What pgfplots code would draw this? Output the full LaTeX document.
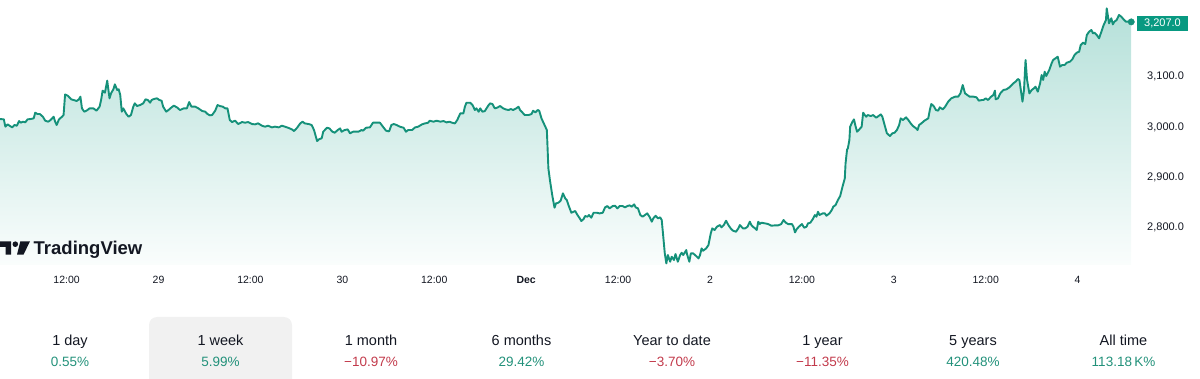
\documentclass[border=0pt]{standalone}
\usepackage{fontspec}
\setmainfont{Liberation Sans}
\usepackage{pgfplots}
\pgfplotsset{compat=1.18}
\usepackage{pgfplotstable}
\definecolor{tvgreen}{HTML}{089981}
\definecolor{tvline}{HTML}{15917A}
\definecolor{tvtext}{HTML}{131722}
\definecolor{tvpos}{HTML}{22917A}
\definecolor{tvneg}{HTML}{C23A4B}
\definecolor{tvbox}{HTML}{F1F1F1}

\pgfplotstableread{
h v
3.3 3013.9
3.8 3013.2
4.0 2998.7
4.3 3003.3
4.6 3000.0
4.9 2997.3
5.2 3002.0
5.5 3000.6
5.8 3009.9
6.0 3006.6
6.3 3008.6
6.6 3007.3
6.9 3013.2
7.3 3013.9
7.7 3015.2
7.9 3026.5
8.2 3023.8
8.5 3023.8
8.9 3018.5
9.2 3010.6
9.6 3008.6
9.9 3011.9
10.3 3018.5
10.5 3008.6
10.7 3002.0
11.0 3013.2
11.4 3018.5
11.6 3021.9
11.8 3062.9
12.2 3059.6
12.6 3053.0
12.9 3051.7
13.3 3049.7
13.6 3053.0
13.8 3058.3
14.0 3035.1
14.3 3028.5
14.6 3030.5
15.0 3035.1
15.5 3035.1
15.9 3030.5
16.3 3038.4
16.5 3051.7
16.7 3070.2
17.0 3066.3
17.3 3090.1
17.4 3078.2
17.6 3055.0
17.8 3064.9
18.1 3072.9
18.3 3082.8
18.6 3071.6
18.8 3072.9
19.0 3061.6
19.2 3028.5
19.4 3035.1
19.8 3023.8
20.1 3018.5
20.4 3021.9
20.7 3038.4
20.9 3045.1
21.2 3039.7
21.6 3041.7
22.0 3045.1
22.3 3053.0
22.6 3051.7
22.9 3046.4
23.1 3051.7
23.4 3053.7
23.8 3055.0
24.1 3051.7
24.4 3050.3
24.6 3038.4
25.0 3028.5
25.3 3031.8
25.7 3037.1
26.0 3040.4
26.4 3037.1
26.8 3031.8
27.3 3035.1
27.7 3035.1
28.0 3047.7
28.3 3038.4
28.8 3038.4
29.2 3035.1
29.7 3029.8
30.1 3028.5
30.4 3023.8
30.7 3021.2
31.0 3021.9
31.4 3030.5
31.7 3041.7
32.0 3039.7
32.4 3038.4
32.7 3035.1
33.0 3035.1
33.3 3011.9
33.6 3007.9
34.0 3010.6
34.4 3003.9
34.9 3007.9
35.3 3006.6
35.7 3007.9
36.2 3003.9
36.6 3003.3
37.0 3005.3
37.5 3000.6
37.9 2998.7
38.3 3000.6
38.8 2997.3
39.2 2998.7
39.7 2997.3
40.1 3000.6
40.5 2998.7
41.0 2996.0
41.4 2993.4
41.7 2990.0
42.1 2996.7
42.5 3005.2
42.8 3008.6
43.1 3005.2
43.6 3003.9
44.0 3001.9
44.3 2992.0
44.7 2970.1
45.0 2974.1
45.3 2975.4
45.5 2988.7
46.0 2996.6
46.3 2995.3
46.7 2988.7
47.0 2986.7
47.4 2992.0
47.7 2995.3
47.9 2988.7
48.3 2992.0
48.7 2993.3
49.0 2985.4
49.4 2988.7
49.7 2988.7
50.1 2988.7
50.5 2992.0
50.7 2990.7
51.1 2996.6
51.6 2997.3
52.0 3006.6
52.3 3006.6
52.9 3006.6
53.3 2998.6
53.7 2990.7
54.1 2989.3
54.4 3001.9
54.7 3003.9
55.1 3001.9
55.5 2998.6
56.0 2996.6
56.3 2988.7
56.6 2992.0
57.1 2992.0
57.5 2997.3
57.9 2998.6
58.4 3003.3
58.8 3005.2
59.2 3006.6
59.4 3010.5
59.9 3008.6
60.3 3010.5
60.8 3008.6
61.2 3009.9
61.6 3007.2
62.0 3008.6
62.3 3006.6
62.7 3005.2
63.0 3011.9
63.4 3025.1
63.8 3025.1
64.0 3038.4
64.2 3046.3
64.7 3046.3
65.0 3041.7
65.3 3031.8
65.5 3035.1
65.8 3028.4
66.0 3035.1
66.3 3028.4
66.6 3029.8
67.1 3041.7
67.3 3045.0
67.6 3043.7
67.9 3035.1
68.2 3036.4
68.6 3039.7
69.0 3035.1
69.3 3033.1
69.7 3031.8
70.0 3033.7
70.3 3031.8
70.7 3035.1
71.0 3038.4
71.2 3031.8
71.5 3027.1
71.8 3021.8
72.3 3021.8
72.7 3023.8
72.9 3030.4
73.2 3027.1
73.5 3031.8
73.7 3030.4
74.0 3015.2
74.3 3005.2
74.7 2992.0
74.9 2915.8
75.1 2892.6
75.4 2862.8
75.7 2837.6
75.9 2846.2
76.2 2847.5
76.5 2851.5
76.8 2866.1
77.1 2856.1
77.3 2852.8
77.6 2839.6
77.9 2827.6
78.4 2831.0
78.7 2823.0
79.0 2816.4
79.2 2811.1
79.5 2815.0
79.7 2821.0
80.0 2819.7
80.2 2823.0
80.5 2817.7
80.8 2827.6
81.2 2827.6
81.6 2826.3
82.0 2827.6
82.3 2838.2
82.6 2840.9
82.9 2836.3
83.3 2840.9
83.6 2841.6
83.9 2836.3
84.2 2840.9
84.6 2840.9
84.9 2838.2
85.2 2840.9
85.5 2842.2
85.8 2839.6
86.1 2844.2
86.3 2838.2
86.6 2836.3
86.9 2823.0
87.2 2819.7
87.5 2823.0
87.8 2826.3
88.1 2819.7
88.4 2809.8
88.6 2816.4
88.9 2821.7
89.2 2816.4
89.5 2818.4
89.7 2813.1
89.9 2779.9
90.1 2746.8
90.3 2726.9
90.5 2743.5
90.8 2730.2
91.0 2740.2
91.3 2733.5
91.5 2745.5
91.8 2730.2
92.1 2743.5
92.3 2748.1
92.5 2743.5
92.9 2753.4
93.0 2745.5
93.3 2730.2
93.5 2746.8
93.8 2746.8
94.2 2741.5
94.5 2736.8
94.7 2743.5
94.9 2756.7
95.1 2752.1
95.5 2756.7
95.8 2763.4
96.1 2786.6
96.3 2796.5
96.6 2793.2
96.9 2799.8
97.3 2803.1
97.5 2798.5
97.8 2803.1
98.1 2811.7
98.4 2803.1
98.7 2796.5
99.0 2791.9
99.4 2789.9
99.7 2796.5
99.9 2803.1
100.3 2796.5
100.6 2796.5
100.9 2799.8
101.2 2809.8
101.4 2803.1
101.6 2799.8
101.9 2796.5
102.1 2793.2
102.3 2809.8
102.5 2805.1
102.7 2807.8
103.2 2806.4
103.6 2805.1
104.0 2801.8
104.5 2802.5
104.9 2802.5
105.3 2805.1
105.6 2813.1
105.9 2807.8
106.2 2805.1
106.7 2805.1
106.9 2799.8
107.1 2788.5
107.3 2794.5
107.6 2799.8
108.0 2805.1
108.3 2797.8
108.6 2799.8
108.8 2806.4
109.1 2807.8
109.4 2814.4
109.7 2823.0
109.9 2819.7
110.1 2829.6
110.3 2823.0
110.7 2826.3
111.0 2826.3
111.2 2821.7
111.6 2826.3
111.9 2832.9
112.1 2839.6
112.4 2842.9
112.7 2852.8
113.0 2860.8
113.3 2879.3
113.6 2895.9
113.7 2925.7
113.9 2953.6
114.0 2955.5
114.2 2972.1
114.3 2998.6
114.6 3008.6
114.8 3013.2
115.0 2999.9
115.2 2988.7
115.5 2993.3
115.8 2998.6
116.0 3026.5
116.2 3021.8
116.4 3018.5
116.6 3021.8
117.0 3019.8
117.3 3021.8
117.7 3016.5
118.0 3019.8
118.3 3023.1
118.5 3018.6
118.8 3002.0
119.1 2985.4
119.5 2980.1
119.8 2985.4
120.1 2986.7
120.4 2992.0
120.7 3002.0
120.9 3015.2
121.2 3011.9
121.6 3017.2
121.9 3011.9
122.2 3005.3
122.5 3000.0
122.9 2995.4
123.1 2992.0
123.3 3002.0
123.6 3005.3
124.0 3010.6
124.5 3015.2
124.7 3031.8
124.9 3043.7
125.2 3039.8
125.5 3031.8
125.8 3030.5
126.0 3037.1
126.4 3033.1
126.7 3038.4
127.1 3048.4
127.5 3055.0
128.0 3058.3
128.4 3058.3
128.7 3064.9
129.0 3081.5
129.3 3064.9
129.6 3061.6
129.9 3058.3
130.4 3058.3
130.8 3057.0
131.1 3050.4
131.5 3051.7
131.7 3051.7
132.0 3055.0
132.3 3051.7
132.7 3058.3
133.0 3061.6
133.2 3070.3
133.3 3053.0
133.6 3055.0
133.9 3064.9
134.3 3071.6
134.7 3072.9
135.1 3076.9
135.6 3084.8
135.9 3088.1
136.2 3093.4
136.4 3091.5
136.8 3048.4
137.0 3071.6
137.2 3131.2
137.4 3091.5
137.7 3064.9
138.0 3071.6
138.3 3074.9
138.5 3078.2
138.8 3068.3
139.1 3084.8
139.3 3101.4
139.5 3091.5
139.7 3108.0
139.9 3099.4
140.3 3111.3
140.6 3124.6
140.8 3131.2
141.1 3134.5
141.4 3137.8
141.7 3118.0
142.0 3121.3
142.3 3121.3
142.6 3125.9
143.0 3127.9
143.3 3132.5
143.6 3141.2
143.9 3145.8
144.2 3147.8
144.4 3161.0
144.7 3165.7
145.0 3163.0
145.2 3180.9
145.5 3187.5
145.8 3190.9
146.0 3184.2
146.2 3185.6
146.5 3180.9
146.8 3174.3
147.1 3187.5
147.4 3200.8
147.7 3210.7
147.8 3233.9
148.1 3204.1
148.4 3214.1
148.6 3202.1
148.8 3207.4
149.1 3210.7
149.4 3220.7
149.7 3217.4
150.0 3212.1
150.3 3207.4
150.7 3207.4
151.0 3207.0
}\pricedata

\begin{document}
\begin{tikzpicture}[x=1pt,y=1pt]
\useasboundingbox (0,0) rectangle (1200,-379);
% highlighted period box
\fill[tvbox, rounded corners=8pt] (149,-390) rectangle (292,-317);

\begin{axis}[
  at={(0,0)}, anchor=north west,
  scale only axis, width=1132pt, height=265pt,
  xmin=3.3, xmax=151.1, ymin=2723.7, ymax=3250.5,
  axis line style={draw=none},
  major tick length=0pt,
  clip=false,
  /pgf/number format/assume math mode=true,
  xtick={12,24,...,144},
  xticklabels={12:00,29,12:00,30,12:00,\textbf{Dec},12:00,2,12:00,3,12:00,4},
  xticklabel style={anchor=base, inner sep=0pt, yshift=-19pt,
    font=\fontsize{10.5}{12}\selectfont, text=tvtext},
  ytick={2800,2900,3000,3100},
  yticklabels={{2,800.0},{2,900.0},{3,000.0},{3,100.0}},
  yticklabel pos=right,
  yticklabel style={anchor=base west, inner sep=0pt, xshift=15pt, yshift=-4pt,
    font=\fontsize{11}{13}\selectfont, text=tvtext},
]
\addplot[draw=none, top color=tvgreen!30!white, bottom color=tvgreen!2!white]
  table[x=h, y=v] {\pricedata} \closedcycle;
\addplot[tvline, line width=1.9pt, line join=round, mark=none]
  table[x=h, y=v] {\pricedata};
\addplot[only marks, mark=*, mark size=3.2pt, mark options={fill=tvline, draw=tvline}]
  coordinates {(151.0,3207)};
\end{axis}

% last value label
\node[fill=tvgreen, text=white, minimum width=51pt, minimum height=15pt, inner sep=0pt,
  font=\fontsize{11}{13}\selectfont] at (1162.5,-23.5) {3,207.0};

% TradingView logo
\fill[tvtext] (0,-241.3) -- (11,-241.3) -- (11,-254.7) -- (5.5,-254.7) -- (5.5,-246.8) -- (0,-246.8) -- cycle;
\fill[tvtext] (15.3,-244.2) circle (2.8);
\fill[tvtext] (20.3,-241.3) -- (30,-241.3) -- (23.5,-254.7) -- (17,-254.7) -- cycle;
\node[anchor=base west, inner sep=0pt, font=\fontsize{18.5}{21}\selectfont\bfseries, text=tvtext]
  at (33.5,-254.7) {TradingView};

% performance row
\foreach \lab/\pct/\col [count=\i from 0] in {
  1 day/0.55\%/tvpos,
  1 week/5.99\%/tvpos,
  1 month/−10.97\%/tvneg,
  6 months/29.42\%/tvpos,
  Year to date/−3.70\%/tvneg,
  1 year/−11.35\%/tvneg,
  5 years/420.48\%/tvpos,
  All time/113.18\,K\%/tvpos} {
  \node[anchor=base, inner sep=0pt, font=\fontsize{14.5}{17}\selectfont, text=tvtext]
    at ({70+150.5*\i}, -345.7) {\lab};
  \node[anchor=base, inner sep=0pt, font=\fontsize{13.5}{16}\selectfont, text=\col]
    at ({70+150.5*\i}, -366.7) {\pct};
}
\end{tikzpicture}
\end{document}
